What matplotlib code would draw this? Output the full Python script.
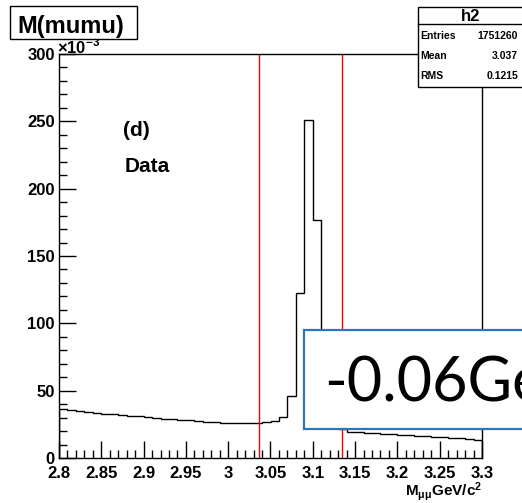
import numpy as np
import matplotlib.pyplot as plt
from matplotlib.patches import Rectangle
from matplotlib.lines import Line2D
from matplotlib.ticker import MultipleLocator

# M(mumu) histogram, 50 bins of 0.01 GeV, counts in units of 10^3
bin_lo = 2.8
bin_hi = 3.3
counts = [36.4, 35.8, 35.0, 34.2, 33.6, 33.0, 32.5, 32.0, 31.4, 30.9,
          30.4, 29.8, 29.3, 28.9, 28.5, 28.1, 27.6, 27.1, 26.6, 26.2,
          25.9, 25.8, 25.7, 25.8, 26.8, 27.6, 30.7, 46.0, 122.6, 251.0,
          177.0, 58.0, 24.5, 21.6, 19.6, 19.2, 18.8, 18.4, 18.0, 17.6,
          17.2, 16.8, 16.5, 16.1, 15.7, 15.3, 14.9, 14.5, 14.1, 13.7]
cut_lines = [3.036, 3.134]
stat_names = ["Entries", "Mean", "RMS"]
stat_values = ["1751260", "3.037", "0.1215"]

W, H = 522, 503
def px(x):
    return x / W
def py(y):
    return 1 - y / H

plt.rcParams['font.family'] = ['Liberation Sans', 'DejaVu Sans']
plt.rcParams['mathtext.fontset'] = 'custom'
plt.rcParams['mathtext.bf'] = 'Liberation Sans:bold'
plt.rcParams['mathtext.rm'] = 'Liberation Sans:bold'

fig = plt.figure(figsize=(W / 100, H / 100), dpi=100)
ax = fig.add_axes([px(59), py(458), px(482) - px(59), py(54) - py(458)])

edges = np.linspace(bin_lo, bin_hi, len(counts) + 1)
ax.stairs(counts, edges, color='black', lw=1)
for xc in cut_lines:
    ax.axvline(xc, color='red', lw=1)

ax.set_xlim(bin_lo, bin_hi)
ax.set_ylim(0, 300)
ax.xaxis.set_major_locator(MultipleLocator(0.05))
ax.xaxis.set_minor_locator(MultipleLocator(0.01))
ax.yaxis.set_major_locator(MultipleLocator(50))
ax.yaxis.set_minor_locator(MultipleLocator(10))
ax.set_xticks(np.arange(2.8, 3.31, 0.05))
ax.set_xticklabels(["2.8", "2.85", "2.9", "2.95", "3", "3.05", "3.1",
                    "3.15", "3.2", "3.25", "3.3"])
ax.tick_params(which='both', direction='in', width=1, top=False, right=False)
ax.tick_params(which='major', length=12, labelsize=12)
ax.tick_params(which='minor', length=6)
ax.tick_params(axis='x', pad=6)
ax.tick_params(axis='y', pad=3)
for lab in ax.get_xticklabels() + ax.get_yticklabels():
    lab.set_fontweight('bold')
for s in ax.spines.values():
    s.set_linewidth(1)

fig.text(px(482), py(496), r"$\mathbf{M_{μμ}GeV/c^{2}}$", ha='right', va='baseline',
         fontsize=11, fontweight='bold')

# exponent label, partly under the title box
fig.text(px(57), py(53), r"×10$^{-3}$", ha='left', va='baseline', fontsize=12,
         fontweight='bold', zorder=1)

# title box
fig.add_artist(Rectangle((px(10), py(39)), px(127), py(6) - py(39), transform=fig.transFigure,
                         facecolor='white', edgecolor='black', lw=1, zorder=2))
fig.text(px(17), py(33), "M(mumu)", ha='left', va='baseline', fontsize=17,
         fontweight='bold', zorder=3)

# panel labels
fig.text(px(123), py(136), "(d)", fontsize=15, fontweight='bold')
fig.text(px(125), py(172), "Data", fontsize=15, fontweight='bold')

# stats box
fig.add_artist(Rectangle((px(418), py(87)), px(112), py(7) - py(87), transform=fig.transFigure,
                         facecolor='white', edgecolor='black', lw=1, zorder=2))
fig.add_artist(Line2D([px(418), px(530)], [py(24), py(24)], transform=fig.transFigure,
                      color='black', lw=1, zorder=3))
fig.text(px(471), py(21), "h2", ha='center', va='baseline', fontsize=12,
         fontweight='bold', zorder=3)
for i, (name, val) in enumerate(zip(stat_names, stat_values)):
    yb = 39 + i * 20
    fig.text(px(420), py(yb), name, ha='left', va='baseline', fontsize=7.5,
             fontweight='bold', zorder=3)
    fig.text(px(518), py(yb), val, ha='right', va='baseline', fontsize=7.5,
             fontweight='bold', zorder=3)

# overlay box
fig.add_artist(Rectangle((px(304), py(429)), px(240), py(330) - py(429), transform=fig.transFigure,
                         facecolor='white', edgecolor='#2E75B6', lw=1.6, zorder=4))
fig.text(px(324), py(402), "-0.06GeV", ha='left', va='baseline', fontsize=44,
         family=['Lato', 'DejaVu Sans'], zorder=5)

fig.savefig("out.png", dpi=100)
